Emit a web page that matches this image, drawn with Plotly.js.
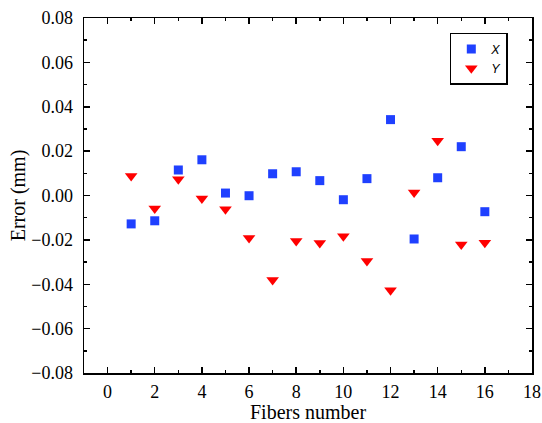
<!DOCTYPE html>
<html><head><meta charset="utf-8">
<script src="https://cdn.plot.ly/plotly-3.0.1.min.js"></script>
<style>html,body{margin:0;padding:0;background:#fff}#chart{width:542px;height:423px}</style>
</head><body><div id="chart"></div>
<script>
const fibers = [1,2,3,4,5,6,7,8,9,10,11,12,13,14,15,16];
const errX = [-0.0128,-0.0114,0.0115,0.0161,0.0011,-0.0001,0.0098,0.0107,0.0067,-0.0019,0.0076,0.0342,-0.0196,0.0080,0.0220,-0.0073];
const errY = [0.0088,-0.0059,0.0073,-0.0014,-0.0062,-0.0192,-0.0381,-0.0205,-0.0214,-0.0184,-0.0295,-0.0427,0.0013,0.0247,-0.0221,-0.0213];
const seriesNames = ['<i>X</i>','<i>Y</i>'];

const serif = 'Liberation Serif, Times New Roman, serif';
const traces = [
  {x: fibers, y: errX, name: seriesNames[0], mode: 'markers', type: 'scatter',
   marker: {symbol: 'square', size: 9, color: '#1f40ff'}},
  {x: fibers, y: errY, name: seriesNames[1], mode: 'markers', type: 'scatter',
   marker: {symbol: 'triangle-down', size: 11, color: '#ff0000'}}
];
const axisCommon = {
  showline: true, linecolor: '#000', linewidth: 1.5, mirror: 'ticks',
  ticks: 'inside', ticklen: 6, tickwidth: 1.5, tickcolor: '#000',
  showgrid: false, zeroline: false,
  tickfont: {family: serif, size: 18, color: '#000'}
};
const layout = {
  width: 542, height: 423,
  margin: {l: 84, r: 10, t: 18, b: 50},
  paper_bgcolor: '#fff', plot_bgcolor: '#fff',
  showlegend: true,
  legend: {x: 0.946, y: 0.958, xanchor: 'right', yanchor: 'top',
    bordercolor: '#000', borderwidth: 1.5, bgcolor: '#fff',
    font: {family: 'Liberation Sans, Arial, sans-serif', size: 12.5, color: '#000'},
    itemwidth: 30, tracegroupgap: 0},
  xaxis: Object.assign({}, axisCommon, {
    range: [-1, 18], dtick: 2, tick0: 0, ticklabelstandoff: 2,
    minor: {dtick: 1, ticks: 'inside', ticklen: 3, tickwidth: 1.5, tickcolor: '#000'},
    title: {text: 'Fibers number', font: {family: serif, size: 20, color: '#000'}, standoff: 0}
  }),
  yaxis: Object.assign({}, axisCommon, {
    range: [-0.08, 0.08], dtick: 0.02, tick0: 0, tickformat: '.2f', ticklabelstandoff: 6,
    minor: {dtick: 0.01, ticks: 'inside', ticklen: 3, tickwidth: 1.5, tickcolor: '#000'},
    title: {text: 'Error (mm)', font: {family: serif, size: 20, color: '#000'}, standoff: 0}
  })
};
Plotly.newPlot('chart', traces, layout, {displayModeBar: false, staticPlot: true});
</script></body></html>
